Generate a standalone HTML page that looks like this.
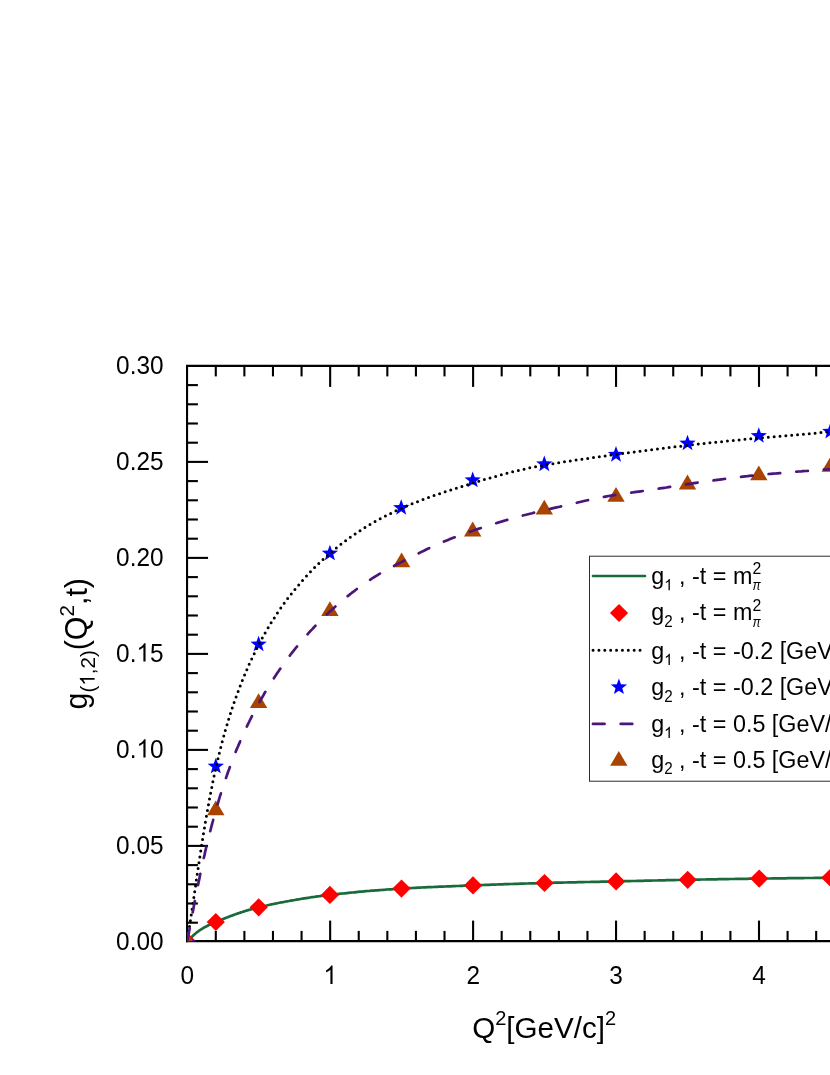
<!DOCTYPE html>
<html><head><meta charset="utf-8"><title>chart</title>
<style>html,body{margin:0;padding:0;background:#fff;overflow:hidden;}svg{display:block;will-change:transform;}text{font-family:"Liberation Sans",sans-serif;fill:#000;font-kerning:none;white-space:pre;}</style></head><body>
<svg width="830" height="1075" viewBox="0 0 830 1075">
<rect width="830" height="1075" fill="#fff"/>
<defs><clipPath id="plot"><rect x="187.05" y="365.85" width="700" height="575.3"/></clipPath></defs>
<g stroke="#000" stroke-width="2.1" fill="none" stroke-linecap="butt">
<path d="M187.05,942.1999999999999 V365.85 H840"/>
<path d="M186.0,941.15 H840"/>
<path d="M187.05,922.70 H197.9"/>
<path d="M187.05,903.50 H197.9"/>
<path d="M187.05,884.30 H197.9"/>
<path d="M187.05,865.10 H197.9"/>
<path d="M187.05,845.90 H208.05"/>
<path d="M187.05,826.70 H197.9"/>
<path d="M187.05,807.50 H197.9"/>
<path d="M187.05,788.30 H197.9"/>
<path d="M187.05,769.10 H197.9"/>
<path d="M187.05,749.90 H208.05"/>
<path d="M187.05,730.70 H197.9"/>
<path d="M187.05,711.50 H197.9"/>
<path d="M187.05,692.30 H197.9"/>
<path d="M187.05,673.10 H197.9"/>
<path d="M187.05,653.90 H208.05"/>
<path d="M187.05,634.70 H197.9"/>
<path d="M187.05,615.50 H197.9"/>
<path d="M187.05,596.30 H197.9"/>
<path d="M187.05,577.10 H197.9"/>
<path d="M187.05,557.90 H208.05"/>
<path d="M187.05,538.70 H197.9"/>
<path d="M187.05,519.50 H197.9"/>
<path d="M187.05,500.30 H197.9"/>
<path d="M187.05,481.10 H197.9"/>
<path d="M187.05,461.90 H208.05"/>
<path d="M187.05,442.70 H197.9"/>
<path d="M187.05,423.50 H197.9"/>
<path d="M187.05,404.30 H197.9"/>
<path d="M187.05,385.10 H197.9"/>
<path d="M215.79,941.15 V930.9"/>
<path d="M215.79,365.85 V376.4"/>
<path d="M244.38,941.15 V930.9"/>
<path d="M244.38,365.85 V376.4"/>
<path d="M272.97,941.15 V930.9"/>
<path d="M272.97,365.85 V376.4"/>
<path d="M301.56,941.15 V930.9"/>
<path d="M301.56,365.85 V376.4"/>
<path d="M330.15,941.15 V920.6"/>
<path d="M330.15,365.85 V386.9"/>
<path d="M358.74,941.15 V930.9"/>
<path d="M358.74,365.85 V376.4"/>
<path d="M387.33,941.15 V930.9"/>
<path d="M387.33,365.85 V376.4"/>
<path d="M415.92,941.15 V930.9"/>
<path d="M415.92,365.85 V376.4"/>
<path d="M444.51,941.15 V930.9"/>
<path d="M444.51,365.85 V376.4"/>
<path d="M473.10,941.15 V920.6"/>
<path d="M473.10,365.85 V386.9"/>
<path d="M501.69,941.15 V930.9"/>
<path d="M501.69,365.85 V376.4"/>
<path d="M530.28,941.15 V930.9"/>
<path d="M530.28,365.85 V376.4"/>
<path d="M558.87,941.15 V930.9"/>
<path d="M558.87,365.85 V376.4"/>
<path d="M587.46,941.15 V930.9"/>
<path d="M587.46,365.85 V376.4"/>
<path d="M616.05,941.15 V920.6"/>
<path d="M616.05,365.85 V386.9"/>
<path d="M644.64,941.15 V930.9"/>
<path d="M644.64,365.85 V376.4"/>
<path d="M673.23,941.15 V930.9"/>
<path d="M673.23,365.85 V376.4"/>
<path d="M701.82,941.15 V930.9"/>
<path d="M701.82,365.85 V376.4"/>
<path d="M730.41,941.15 V930.9"/>
<path d="M730.41,365.85 V376.4"/>
<path d="M759.00,941.15 V920.6"/>
<path d="M759.00,365.85 V386.9"/>
<path d="M787.59,941.15 V930.9"/>
<path d="M787.59,365.85 V376.4"/>
<path d="M816.18,941.15 V930.9"/>
<path d="M816.18,365.85 V376.4"/>
<path d="M844.77,941.15 V930.9"/>
<path d="M844.77,365.85 V376.4"/>
</g>
<g transform="translate(163.60,949.60) scale(1,1.05)">
<text x="-47.49" y="0.00" font-size="24.4">0.00</text>
</g>
<g transform="translate(163.60,853.60) scale(1,1.05)">
<text x="-47.49" y="0.00" font-size="24.4">0.05</text>
</g>
<g transform="translate(163.60,757.60) scale(1,1.05)">
<text x="-47.49" y="0.00" font-size="24.4">0.</text>
<path transform="translate(-27.14,0.00) scale(0.01191,-0.01191)" d="M763 0H583V1147Q518 1085 412.5 1023Q307 961 223 930V1104Q374 1175 487 1276Q600 1377 647 1472H763Z"/>
<text x="-13.57" y="0.00" font-size="24.4">0</text>
</g>
<g transform="translate(163.60,661.60) scale(1,1.05)">
<text x="-47.49" y="0.00" font-size="24.4">0.</text>
<path transform="translate(-27.14,0.00) scale(0.01191,-0.01191)" d="M763 0H583V1147Q518 1085 412.5 1023Q307 961 223 930V1104Q374 1175 487 1276Q600 1377 647 1472H763Z"/>
<text x="-13.57" y="0.00" font-size="24.4">5</text>
</g>
<g transform="translate(163.60,565.60) scale(1,1.05)">
<text x="-47.49" y="0.00" font-size="24.4">0.20</text>
</g>
<g transform="translate(163.60,469.60) scale(1,1.05)">
<text x="-47.49" y="0.00" font-size="24.4">0.25</text>
</g>
<g transform="translate(163.60,373.60) scale(1,1.05)">
<text x="-47.49" y="0.00" font-size="24.4">0.30</text>
</g>
<g transform="translate(187.30,984.00) scale(1,1.05)">
<text x="-6.79" y="0.00" font-size="24.4">0</text>
</g>
<g transform="translate(330.25,984.00) scale(1,1.05)">
<path transform="translate(-6.79,0.00) scale(0.01191,-0.01191)" d="M763 0H583V1147Q518 1085 412.5 1023Q307 961 223 930V1104Q374 1175 487 1276Q600 1377 647 1472H763Z"/>
</g>
<g transform="translate(473.20,984.00) scale(1,1.05)">
<text x="-6.79" y="0.00" font-size="24.4">2</text>
</g>
<g transform="translate(616.15,984.00) scale(1,1.05)">
<text x="-6.79" y="0.00" font-size="24.4">3</text>
</g>
<g transform="translate(759.10,984.00) scale(1,1.05)">
<text x="-6.79" y="0.00" font-size="24.4">4</text>
</g>
<g clip-path="url(#plot)">
<path d="M187.2,941.5 L187.8,940.9 L188.4,940.2 L189.0,939.6 L189.6,939.0 L190.3,938.4 L190.9,937.7 L191.5,937.2 L192.1,936.6 L192.7,936.0 L193.3,935.4 L193.9,934.9 L194.5,934.3 L195.2,933.8 L195.8,933.3 L196.4,932.8 L197.0,932.3 L197.6,931.8 L198.2,931.4 L198.8,930.9 L199.4,930.5 L200.0,930.1 L200.7,929.7 L201.3,929.3 L201.9,928.9 L202.5,928.5 L203.1,928.2 L203.7,927.8 L204.3,927.5 L204.9,927.1 L205.6,926.8 L206.2,926.5 L206.8,926.2 L207.4,925.8 L208.0,925.5 L208.6,925.2 L209.2,924.9 L209.8,924.6 L210.4,924.4 L211.1,924.1 L211.7,923.8 L212.3,923.5 L212.9,923.3 L213.5,923.0 L214.1,922.7 L214.7,922.5 L215.3,922.2 L216.0,921.9 L216.6,921.7 L217.2,921.4 L217.8,921.2 L218.4,920.9 L219.0,920.7 L219.6,920.4 L220.2,920.2 L220.8,919.9 L221.5,919.7 L222.1,919.4 L222.7,919.2 L223.3,918.9 L223.9,918.7 L224.5,918.4 L225.1,918.2 L225.7,917.9 L226.4,917.7 L227.0,917.5 L227.6,917.2 L228.2,917.0 L228.8,916.8 L229.4,916.5 L230.0,916.3 L230.6,916.1 L231.2,915.8 L231.9,915.6 L232.5,915.4 L233.1,915.1 L233.7,914.9 L234.3,914.7 L234.9,914.5 L235.5,914.3 L236.1,914.0 L236.8,913.8 L237.4,913.6 L238.0,913.4 L238.6,913.2 L239.2,913.0 L239.8,912.8 L240.4,912.6 L241.0,912.4 L241.6,912.2 L242.3,912.0 L242.9,911.8 L243.5,911.6 L244.1,911.4 L244.7,911.2 L245.3,911.0 L245.9,910.8 L246.5,910.6 L247.2,910.4 L247.8,910.2 L248.4,910.1 L249.0,909.9 L249.6,909.7 L250.2,909.5 L250.8,909.4 L251.4,909.2 L252.0,909.0 L252.7,908.8 L253.3,908.7 L253.9,908.5 L254.5,908.4 L255.1,908.2 L255.7,908.0 L256.3,907.9 L256.9,907.7 L257.6,907.6 L258.2,907.4 L258.8,907.3 L259.4,907.1 L260.0,907.0 L261.9,906.5 L263.9,906.1 L265.8,905.7 L267.7,905.2 L269.6,904.8 L271.6,904.4 L273.5,904.0 L275.4,903.6 L277.3,903.2 L279.3,902.8 L281.2,902.4 L283.1,902.1 L285.0,901.7 L287.0,901.3 L288.9,901.0 L290.8,900.6 L292.7,900.3 L294.7,900.0 L296.6,899.6 L298.5,899.3 L300.5,899.0 L302.4,898.7 L304.3,898.4 L306.2,898.1 L308.2,897.8 L310.1,897.5 L312.0,897.2 L313.9,897.0 L315.9,896.7 L317.8,896.4 L319.7,896.2 L321.6,895.9 L323.6,895.7 L325.5,895.4 L327.4,895.2 L329.4,895.0 L331.3,894.7 L333.2,894.5 L335.1,894.3 L337.1,894.1 L339.0,893.9 L340.9,893.7 L342.8,893.5 L344.8,893.3 L346.7,893.1 L348.6,892.9 L350.5,892.7 L352.5,892.5 L354.4,892.3 L356.3,892.1 L358.2,891.9 L360.2,891.7 L362.1,891.6 L364.0,891.4 L366.0,891.2 L367.9,891.0 L369.8,890.9 L371.7,890.7 L373.7,890.6 L375.6,890.4 L377.5,890.3 L379.4,890.1 L381.4,890.0 L383.3,889.8 L385.2,889.7 L387.1,889.5 L389.1,889.4 L391.0,889.3 L392.9,889.1 L394.8,889.0 L396.8,888.9 L398.7,888.8 L400.6,888.7 L402.6,888.5 L404.5,888.4 L406.4,888.3 L408.3,888.2 L410.3,888.1 L412.2,888.0 L414.1,887.9 L416.0,887.8 L418.0,887.7 L419.9,887.6 L421.8,887.5 L423.7,887.4 L425.7,887.3 L427.6,887.2 L429.5,887.2 L431.5,887.1 L433.4,887.0 L435.3,886.9 L437.2,886.8 L439.2,886.7 L441.1,886.7 L443.0,886.6 L444.9,886.5 L446.9,886.4 L448.8,886.3 L450.7,886.3 L452.6,886.2 L454.6,886.1 L456.5,886.0 L458.4,886.0 L460.3,885.9 L462.3,885.8 L464.2,885.7 L466.1,885.7 L468.1,885.6 L470.0,885.5 L471.9,885.4 L473.8,885.4 L475.8,885.3 L477.7,885.2 L479.6,885.1 L481.5,885.1 L483.5,885.0 L485.4,884.9 L487.3,884.9 L489.2,884.8 L491.2,884.7 L493.1,884.6 L495.0,884.6 L496.9,884.5 L498.9,884.4 L500.8,884.4 L502.7,884.3 L504.7,884.2 L506.6,884.2 L508.5,884.1 L510.4,884.0 L512.4,884.0 L514.3,883.9 L516.2,883.8 L518.1,883.8 L520.1,883.7 L522.0,883.7 L523.9,883.6 L525.8,883.5 L527.8,883.5 L529.7,883.4 L531.6,883.4 L533.6,883.3 L535.5,883.3 L537.4,883.2 L539.3,883.1 L541.3,883.1 L543.2,883.0 L545.1,883.0 L547.0,882.9 L549.0,882.9 L550.9,882.8 L552.8,882.8 L554.7,882.7 L556.7,882.7 L558.6,882.6 L560.5,882.6 L562.4,882.6 L564.4,882.5 L566.3,882.5 L568.2,882.4 L570.2,882.4 L572.1,882.3 L574.0,882.3 L575.9,882.3 L577.9,882.2 L579.8,882.2 L581.7,882.1 L583.6,882.1 L585.6,882.0 L587.5,882.0 L589.4,882.0 L591.3,881.9 L593.3,881.9 L595.2,881.8 L597.1,881.8 L599.1,881.8 L601.0,881.7 L602.9,881.7 L604.8,881.6 L606.8,881.6 L608.7,881.6 L610.6,881.5 L612.5,881.5 L614.5,881.4 L616.4,881.4 L618.3,881.4 L620.2,881.3 L622.2,881.3 L624.1,881.2 L626.0,881.2 L627.9,881.1 L629.9,881.1 L631.8,881.0 L633.7,881.0 L635.7,881.0 L637.6,880.9 L639.5,880.9 L641.4,880.8 L643.4,880.8 L645.3,880.7 L647.2,880.7 L649.1,880.6 L651.1,880.6 L653.0,880.5 L654.9,880.5 L656.8,880.5 L658.8,880.4 L660.7,880.4 L662.6,880.3 L664.5,880.3 L666.5,880.2 L668.4,880.2 L670.3,880.2 L672.3,880.1 L674.2,880.1 L676.1,880.0 L678.0,880.0 L680.0,880.0 L681.9,879.9 L683.8,879.9 L685.7,879.8 L687.7,879.8 L689.6,879.8 L691.5,879.7 L693.4,879.7 L695.4,879.7 L697.3,879.6 L699.2,879.6 L701.2,879.5 L703.1,879.5 L705.0,879.5 L706.9,879.4 L708.9,879.4 L710.8,879.4 L712.7,879.3 L714.6,879.3 L716.6,879.3 L718.5,879.2 L720.4,879.2 L722.3,879.2 L724.3,879.1 L726.2,879.1 L728.1,879.1 L730.0,879.0 L732.0,879.0 L733.9,879.0 L735.8,878.9 L737.8,878.9 L739.7,878.9 L741.6,878.9 L743.5,878.8 L745.5,878.8 L747.4,878.8 L749.3,878.7 L751.2,878.7 L753.2,878.7 L755.1,878.7 L757.0,878.6 L758.9,878.6 L760.9,878.6 L762.8,878.6 L764.7,878.5 L766.6,878.5 L768.6,878.5 L770.5,878.5 L772.4,878.4 L774.4,878.4 L776.3,878.4 L778.2,878.4 L780.1,878.3 L782.1,878.3 L784.0,878.3 L785.9,878.3 L787.8,878.2 L789.8,878.2 L791.7,878.2 L793.6,878.2 L795.5,878.1 L797.5,878.1 L799.4,878.1 L801.3,878.1 L803.3,878.1 L805.2,878.0 L807.1,878.0 L809.0,878.0 L811.0,878.0 L812.9,878.0 L814.8,877.9 L816.7,877.9 L818.7,877.9 L820.6,877.9 L822.5,877.9 L824.4,877.9 L826.4,877.8 L828.3,877.8 L830.2,877.8 L832.1,877.8 L834.1,877.8 L836.0,877.8" fill="none" stroke="#1a6b3c" stroke-width="2.7" stroke-linecap="round" stroke-linejoin="round"/>
<path d="M187.20,932.40 L196.30,941.50 L187.20,950.60 L178.10,941.50Z" fill="#ff0000"/>
<path d="M215.80,912.90 L224.90,922.00 L215.80,931.10 L206.70,922.00Z" fill="#ff0000"/>
<path d="M258.70,898.20 L267.80,907.30 L258.70,916.40 L249.60,907.30Z" fill="#ff0000"/>
<path d="M329.90,885.80 L339.00,894.90 L329.90,904.00 L320.80,894.90Z" fill="#ff0000"/>
<path d="M401.50,879.50 L410.60,888.60 L401.50,897.70 L392.40,888.60Z" fill="#ff0000"/>
<path d="M473.00,876.30 L482.10,885.40 L473.00,894.50 L463.90,885.40Z" fill="#ff0000"/>
<path d="M544.50,873.90 L553.60,883.00 L544.50,892.10 L535.40,883.00Z" fill="#ff0000"/>
<path d="M616.10,872.30 L625.20,881.40 L616.10,890.50 L607.00,881.40Z" fill="#ff0000"/>
<path d="M687.70,870.70 L696.80,879.80 L687.70,888.90 L678.60,879.80Z" fill="#ff0000"/>
<path d="M759.20,869.50 L768.30,878.60 L759.20,887.70 L750.10,878.60Z" fill="#ff0000"/>
<path d="M830.30,868.70 L839.40,877.80 L830.30,886.90 L821.20,877.80Z" fill="#ff0000"/>
<path d="M187.20,934.20 L189.29,939.93 L195.38,940.14 L190.58,943.90 L192.25,949.76 L187.20,946.35 L182.15,949.76 L183.82,943.90 L179.02,940.14 L185.11,939.93Z" fill="#0000ff"/>
<path d="M215.80,757.80 L217.89,763.53 L223.98,763.74 L219.18,767.50 L220.85,773.36 L215.80,769.95 L210.75,773.36 L212.42,767.50 L207.62,763.74 L213.71,763.53Z" fill="#0000ff"/>
<path d="M258.60,635.70 L260.69,641.43 L266.78,641.64 L261.98,645.40 L263.65,651.26 L258.60,647.85 L253.55,651.26 L255.22,645.40 L250.42,641.64 L256.51,641.43Z" fill="#0000ff"/>
<path d="M329.90,544.80 L331.99,550.53 L338.08,550.74 L333.28,554.50 L334.95,560.36 L329.90,556.95 L324.85,560.36 L326.52,554.50 L321.72,550.74 L327.81,550.53Z" fill="#0000ff"/>
<path d="M401.20,499.20 L403.29,504.93 L409.38,505.14 L404.58,508.90 L406.25,514.76 L401.20,511.35 L396.15,514.76 L397.82,508.90 L393.02,505.14 L399.11,504.93Z" fill="#0000ff"/>
<path d="M472.70,471.60 L474.79,477.33 L480.88,477.54 L476.08,481.30 L477.75,487.16 L472.70,483.75 L467.65,487.16 L469.32,481.30 L464.52,477.54 L470.61,477.33Z" fill="#0000ff"/>
<path d="M544.30,455.60 L546.39,461.33 L552.48,461.54 L547.68,465.30 L549.35,471.16 L544.30,467.75 L539.25,471.16 L540.92,465.30 L536.12,461.54 L542.21,461.33Z" fill="#0000ff"/>
<path d="M616.00,446.10 L618.09,451.83 L624.18,452.04 L619.38,455.80 L621.05,461.66 L616.00,458.25 L610.95,461.66 L612.62,455.80 L607.82,452.04 L613.91,451.83Z" fill="#0000ff"/>
<path d="M687.50,434.70 L689.59,440.43 L695.68,440.64 L690.88,444.40 L692.55,450.26 L687.50,446.85 L682.45,450.26 L684.12,444.40 L679.32,440.64 L685.41,440.43Z" fill="#0000ff"/>
<path d="M758.80,427.20 L760.89,432.93 L766.98,433.14 L762.18,436.90 L763.85,442.76 L758.80,439.35 L753.75,442.76 L755.42,436.90 L750.62,433.14 L756.71,432.93Z" fill="#0000ff"/>
<path d="M830.30,423.00 L832.39,428.73 L838.48,428.94 L833.68,432.70 L835.35,438.56 L830.30,435.15 L825.25,438.56 L826.92,432.70 L822.12,428.94 L828.21,428.73Z" fill="#0000ff"/>
<path d="M187.2,941.5 L187.5,939.3 L187.9,937.0 L188.3,934.8 L188.6,932.5 L189.0,930.3 L189.3,928.0 L189.6,925.8 L190.0,923.5 L190.3,921.3 L190.7,919.0 L191.0,916.7 L191.3,914.5 L191.7,912.2 L192.0,910.0 L192.3,907.7 L192.7,905.5 L193.0,903.2 L193.3,901.0 L193.7,898.7 L194.0,896.4 L194.3,894.2 L194.7,891.9 L195.0,889.7 L195.3,887.4 L195.7,885.2 L196.0,882.9 L196.3,880.6 L196.6,878.4 L197.0,876.1 L197.3,873.9 L197.6,871.6 L198.0,869.4 L198.3,867.1 L198.7,864.8 L199.0,862.6 L199.3,860.3 L199.7,858.1 L200.0,855.8 L200.4,853.6 L200.7,851.3 L201.0,849.0 L201.4,846.8 L201.7,844.5 L202.1,842.3 L202.5,840.0 L202.8,837.8 L203.2,835.5 L203.5,833.3 L203.9,831.0 L204.3,828.8 L204.7,826.5 L205.0,824.3 L205.4,822.0 L205.8,819.8 L206.2,817.5 L206.6,815.3 L207.0,813.0 L207.4,810.8 L207.8,808.5 L208.2,806.3 L208.6,804.1 L209.0,801.8 L209.4,799.6 L209.8,797.3 L210.2,795.1 L210.7,792.9 L211.1,790.6 L211.6,788.4 L212.0,786.2 L212.5,783.9 L212.9,781.7 L213.4,779.5 L213.8,777.2 L214.3,775.0 L214.8,772.8 L215.3,770.6 L215.8,768.3 L216.3,766.1 L216.8,763.9 L217.3,761.7 L217.8,759.5 L218.3,757.3 L218.9,755.0 L219.4,752.8 L220.0,750.6 L220.5,748.4 L221.1,746.2 L221.7,744.0 L222.2,741.8 L222.8,739.6 L223.4,737.4 L224.0,735.2 L224.6,733.0 L225.2,730.8 L225.9,728.6 L226.5,726.5 L227.2,724.3 L227.8,722.1 L228.5,719.9 L229.1,717.7 L229.8,715.6 L230.5,713.4 L231.2,711.2 L231.9,709.0 L232.6,706.9 L233.4,704.7 L234.1,702.5 L234.9,700.4 L235.6,698.2 L236.4,696.1 L237.2,693.9 L238.0,691.8 L238.8,689.6 L239.6,687.5 L240.4,685.4 L241.2,683.2 L242.1,681.1 L242.9,679.0 L243.8,676.9 L244.7,674.7 L245.6,672.6 L246.5,670.5 L247.4,668.4 L248.3,666.3 L249.2,664.2 L250.2,662.2 L251.2,660.1 L252.1,658.0 L253.1,655.9 L254.1,653.9 L255.1,651.8 L256.1,649.8 L257.2,647.7 L258.2,645.7 L259.3,643.7 L260.3,641.6 L261.4,639.6 L262.5,637.6 L263.6,635.6 L264.7,633.6 L265.9,631.6 L267.0,629.7 L268.2,627.7 L269.3,625.7 L270.5,623.8 L271.7,621.8 L272.9,619.9 L274.2,618.0 L275.4,616.1 L276.7,614.1 L277.9,612.2 L279.2,610.4 L280.5,608.5 L281.8,606.6 L283.2,604.7 L284.5,602.9 L285.9,601.0 L287.2,599.2 L288.6,597.4 L290.0,595.6 L291.4,593.8 L292.8,592.0 L294.3,590.2 L295.7,588.4 L297.2,586.7 L298.7,584.9 L300.1,583.2 L301.6,581.5 L303.2,579.7 L304.7,578.0 L306.2,576.4 L307.8,574.7 L309.3,573.0 L310.9,571.4 L312.5,569.7 L314.1,568.1 L315.7,566.5 L317.4,564.9 L319.0,563.3 L320.7,561.7 L322.3,560.2 L324.0,558.6 L325.7,557.1 L327.4,555.6 L329.1,554.1 L330.8,552.6 L332.5,551.1 L334.3,549.6 L336.0,548.2 L337.8,546.8 L339.6,545.3 L341.4,543.9 L343.2,542.5 L345.0,541.2 L346.8,539.8 L348.6,538.5 L350.5,537.1 L352.3,535.8 L354.2,534.5 L356.0,533.3 L357.9,532.0 L359.8,530.8 L361.7,529.5 L363.6,528.3 L365.5,527.1 L367.5,526.0 L369.4,524.8 L371.3,523.7 L373.3,522.5 L375.3,521.4 L377.2,520.3 L379.2,519.2 L381.2,518.2 L383.2,517.1 L385.2,516.1 L387.2,515.1 L389.2,514.1 L391.3,513.1 L393.3,512.1 L395.3,511.1 L397.4,510.2 L399.4,509.3 L401.5,508.3 L403.6,507.4 L405.7,506.5 L407.7,505.6 L409.8,504.8 L411.9,503.9 L414.0,503.1 L416.1,502.2 L418.2,501.4 L420.4,500.6 L422.5,499.8 L424.6,499.0 L426.7,498.2 L428.9,497.4 L431.0,496.7 L433.2,495.9 L435.3,495.1 L437.5,494.4 L439.6,493.7 L441.8,492.9 L444.0,492.2 L446.1,491.5 L448.3,490.8 L450.5,490.1 L452.7,489.4 L454.8,488.7 L457.0,488.0 L459.2,487.3 L461.4,486.6 L463.6,485.9 L465.8,485.3 L468.0,484.6 L470.2,483.9 L472.4,483.2 L474.6,482.6 L476.8,481.9 L479.0,481.2 L481.2,480.6 L483.4,479.9 L485.6,479.2 L487.8,478.6 L490.0,478.0 L492.3,477.3 L494.5,476.7 L496.7,476.1 L498.9,475.5 L501.1,474.8 L503.3,474.2 L505.6,473.7 L507.8,473.1 L510.0,472.5 L512.3,471.9 L514.5,471.4 L516.7,470.8 L518.9,470.3 L521.2,469.8 L523.4,469.3 L525.6,468.8 L527.9,468.3 L530.1,467.8 L532.3,467.4 L534.6,466.9 L536.8,466.5 L539.1,466.1 L541.3,465.7 L543.5,465.2 L545.8,464.8 L548.0,464.5 L550.3,464.1 L552.5,463.7 L554.8,463.3 L557.0,463.0 L559.3,462.6 L561.5,462.3 L563.8,461.9 L566.0,461.6 L568.3,461.2 L570.5,460.9 L572.8,460.6 L575.0,460.2 L577.3,459.9 L579.5,459.6 L581.8,459.3 L584.0,458.9 L586.3,458.6 L588.5,458.3 L590.8,458.0 L593.0,457.6 L595.3,457.3 L597.5,457.0 L599.8,456.7 L602.0,456.4 L604.3,456.1 L606.5,455.7 L608.8,455.4 L611.0,455.1 L613.3,454.8 L615.6,454.5 L617.8,454.2 L620.1,453.9 L622.3,453.6 L624.6,453.3 L626.8,453.0 L629.1,452.7 L631.3,452.4 L633.6,452.1 L635.9,451.8 L638.1,451.5 L640.4,451.2 L642.6,450.9 L644.9,450.6 L647.2,450.3 L649.4,450.0 L651.7,449.7 L653.9,449.4 L656.2,449.1 L658.5,448.8 L660.7,448.6 L663.0,448.3 L665.2,448.0 L667.5,447.7 L669.8,447.4 L672.0,447.2 L674.3,446.9 L676.5,446.6 L678.8,446.4 L681.1,446.1 L683.3,445.8 L685.6,445.6 L687.9,445.3 L690.1,445.0 L692.4,444.8 L694.6,444.5 L696.9,444.3 L699.2,444.0 L701.4,443.8 L703.7,443.5 L706.0,443.3 L708.2,443.0 L710.5,442.8 L712.8,442.6 L715.0,442.3 L717.3,442.1 L719.6,441.9 L721.8,441.6 L724.1,441.4 L726.4,441.2 L728.6,441.0 L730.9,440.7 L733.2,440.5 L735.5,440.3 L737.7,440.1 L740.0,439.9 L742.3,439.7 L744.5,439.4 L746.8,439.2 L749.1,439.0 L751.3,438.8 L753.6,438.6 L755.9,438.4 L758.2,438.2 L760.4,438.0 L762.7,437.8 L765.0,437.6 L767.3,437.4 L769.5,437.2 L771.8,437.0 L774.1,436.8 L776.3,436.6 L778.6,436.4 L780.9,436.2 L783.2,436.0 L785.4,435.8 L787.7,435.6 L790.0,435.4 L792.3,435.2 L794.5,435.0 L796.8,434.8 L799.1,434.6 L801.4,434.4 L803.7,434.2 L805.9,434.0 L808.2,433.8 L810.5,433.6 L812.8,433.4 L815.0,433.2 L817.3,433.0 L819.6,432.7 L821.9,432.5 L824.2,432.3 L826.4,432.1 L828.7,431.9 L831.0,431.6 L833.3,431.4 L835.6,431.2 L837.8,431.0 L840.1,430.7" fill="none" stroke="#000" stroke-width="3.0" stroke-linecap="round" stroke-linejoin="round" stroke-dasharray="0 5.868" stroke-dashoffset="-3.4"/>
<path d="M187.20,931.63 L195.90,946.43 L178.50,946.43Z" fill="#a84300"/>
<path d="M215.80,800.40 L224.50,815.20 L207.10,815.20Z" fill="#a84300"/>
<path d="M258.60,693.30 L267.30,708.10 L249.90,708.10Z" fill="#a84300"/>
<path d="M329.90,601.20 L338.60,616.00 L321.20,616.00Z" fill="#a84300"/>
<path d="M401.60,552.50 L410.30,567.30 L392.90,567.30Z" fill="#a84300"/>
<path d="M472.70,521.60 L481.40,536.40 L464.00,536.40Z" fill="#a84300"/>
<path d="M544.30,499.80 L553.00,514.60 L535.60,514.60Z" fill="#a84300"/>
<path d="M616.00,486.90 L624.70,501.70 L607.30,501.70Z" fill="#a84300"/>
<path d="M687.50,474.60 L696.20,489.40 L678.80,489.40Z" fill="#a84300"/>
<path d="M758.80,465.50 L767.50,480.30 L750.10,480.30Z" fill="#a84300"/>
<path d="M830.30,457.00 L839.00,471.80 L821.60,471.80Z" fill="#a84300"/>
<path d="M187.2,941.5 L187.6,939.4 L188.0,937.3 L188.4,935.2 L188.8,933.0 L189.2,930.9 L189.6,928.8 L190.0,926.7 L190.4,924.6 L190.8,922.4 L191.1,920.3 L191.5,918.2 L192.0,916.1 L192.4,914.0 L192.8,911.8 L193.2,909.7 L193.6,907.6 L194.0,905.5 L194.4,903.3 L194.8,901.2 L195.2,899.1 L195.6,897.0 L196.0,894.8 L196.5,892.7 L196.9,890.6 L197.3,888.5 L197.7,886.4 L198.2,884.2 L198.6,882.1 L199.1,880.0 L199.5,877.9 L199.9,875.8 L200.4,873.6 L200.8,871.5 L201.3,869.4 L201.7,867.3 L202.2,865.2 L202.7,863.1 L203.1,860.9 L203.6,858.8 L204.1,856.7 L204.6,854.6 L205.0,852.5 L205.5,850.4 L206.0,848.3 L206.5,846.2 L207.0,844.1 L207.5,842.0 L208.0,839.9 L208.6,837.8 L209.1,835.7 L209.6,833.6 L210.1,831.5 L210.7,829.4 L211.2,827.3 L211.8,825.2 L212.3,823.1 L212.9,821.0 L213.4,818.9 L214.0,816.8 L214.6,814.7 L215.2,812.7 L215.8,810.6 L216.3,808.5 L216.9,806.4 L217.6,804.4 L218.2,802.3 L218.8,800.2 L219.4,798.2 L220.0,796.1 L220.7,794.0 L221.3,792.0 L222.0,789.9 L222.7,787.9 L223.3,785.8 L224.0,783.8 L224.7,781.7 L225.4,779.7 L226.1,777.6 L226.8,775.6 L227.5,773.5 L228.2,771.5 L229.0,769.5 L229.7,767.5 L230.4,765.4 L231.2,763.4 L232.0,761.4 L232.7,759.4 L233.5,757.4 L234.3,755.4 L235.1,753.3 L235.9,751.3 L236.7,749.3 L237.6,747.3 L238.4,745.4 L239.3,743.4 L240.1,741.4 L241.0,739.4 L241.8,737.4 L242.7,735.5 L243.6,733.5 L244.5,731.5 L245.4,729.6 L246.3,727.6 L247.3,725.6 L248.2,723.7 L249.2,721.8 L250.1,719.8 L251.1,717.9 L252.1,716.0 L253.1,714.0 L254.0,712.1 L255.1,710.2 L256.1,708.3 L257.1,706.4 L258.1,704.5 L259.2,702.6 L260.2,700.7 L261.3,698.8 L262.4,697.0 L263.5,695.1 L264.5,693.2 L265.6,691.4 L266.8,689.5 L267.9,687.7 L269.0,685.8 L270.2,684.0 L271.3,682.2 L272.5,680.3 L273.7,678.5 L274.8,676.7 L276.0,674.9 L277.2,673.1 L278.5,671.3 L279.7,669.5 L280.9,667.8 L282.2,666.0 L283.4,664.2 L284.7,662.5 L286.0,660.7 L287.3,659.0 L288.6,657.3 L289.9,655.5 L291.2,653.8 L292.5,652.1 L293.9,650.4 L295.2,648.7 L296.6,647.0 L298.0,645.4 L299.4,643.7 L300.8,642.0 L302.2,640.4 L303.6,638.7 L305.0,637.1 L306.5,635.5 L307.9,633.9 L309.4,632.2 L310.8,630.6 L312.3,629.1 L313.8,627.5 L315.3,625.9 L316.8,624.3 L318.3,622.8 L319.9,621.2 L321.4,619.7 L323.0,618.2 L324.5,616.6 L326.1,615.1 L327.7,613.6 L329.2,612.1 L330.8,610.7 L332.5,609.2 L334.1,607.7 L335.7,606.3 L337.3,604.8 L339.0,603.4 L340.6,602.0 L342.3,600.6 L344.0,599.2 L345.6,597.8 L347.3,596.4 L349.0,595.1 L350.7,593.7 L352.4,592.4 L354.2,591.1 L355.9,589.8 L357.6,588.5 L359.4,587.2 L361.1,585.9 L362.9,584.7 L364.6,583.5 L366.4,582.2 L368.2,581.0 L370.0,579.9 L371.8,578.7 L373.6,577.5 L375.4,576.4 L377.2,575.3 L379.0,574.2 L380.9,573.1 L382.7,572.1 L384.5,571.0 L386.4,570.0 L388.2,569.0 L390.1,568.0 L391.9,567.0 L393.8,566.0 L395.7,565.0 L397.6,564.0 L399.4,563.1 L401.3,562.1 L403.2,561.1 L405.1,560.2 L407.0,559.2 L408.9,558.2 L410.9,557.2 L412.8,556.3 L414.7,555.3 L416.6,554.3 L418.5,553.4 L420.5,552.4 L422.4,551.4 L424.4,550.5 L426.3,549.5 L428.3,548.6 L430.2,547.7 L432.2,546.8 L434.1,545.9 L436.1,545.0 L438.1,544.1 L440.1,543.2 L442.0,542.4 L444.0,541.5 L446.0,540.7 L448.0,539.9 L450.0,539.1 L452.0,538.3 L454.0,537.5 L456.0,536.8 L458.0,536.0 L460.0,535.3 L462.0,534.6 L464.0,533.8 L466.1,533.1 L468.1,532.4 L470.1,531.7 L472.2,531.0 L474.2,530.3 L476.2,529.6 L478.3,528.9 L480.3,528.2 L482.4,527.6 L484.4,526.9 L486.5,526.2 L488.5,525.6 L490.6,524.9 L492.6,524.3 L494.7,523.6 L496.8,523.0 L498.8,522.4 L500.9,521.7 L503.0,521.1 L505.0,520.5 L507.1,519.9 L509.2,519.3 L511.3,518.7 L513.4,518.1 L515.5,517.6 L517.6,517.0 L519.6,516.4 L521.7,515.9 L523.8,515.3 L525.9,514.8 L528.0,514.2 L530.1,513.7 L532.2,513.2 L534.3,512.6 L536.4,512.1 L538.5,511.6 L540.7,511.1 L542.8,510.6 L544.9,510.1 L547.0,509.6 L549.1,509.1 L551.2,508.6 L553.3,508.1 L555.5,507.6 L557.6,507.2 L559.7,506.7 L561.8,506.2 L564.0,505.7 L566.1,505.2 L568.2,504.7 L570.3,504.2 L572.5,503.7 L574.6,503.2 L576.7,502.8 L578.8,502.3 L581.0,501.8 L583.1,501.3 L585.2,500.8 L587.4,500.3 L589.5,499.8 L591.6,499.3 L593.8,498.9 L595.9,498.4 L598.0,498.0 L600.2,497.6 L602.3,497.1 L604.5,496.8 L606.6,496.4 L608.7,496.0 L610.9,495.7 L613.0,495.3 L615.1,495.0 L617.3,494.7 L619.4,494.4 L621.5,494.1 L623.7,493.8 L625.8,493.5 L628.0,493.2 L630.1,492.9 L632.2,492.5 L634.4,492.2 L636.5,491.9 L638.6,491.6 L640.8,491.3 L642.9,491.0 L645.0,490.7 L647.2,490.4 L649.3,490.0 L651.4,489.7 L653.5,489.4 L655.7,489.1 L657.8,488.8 L659.9,488.4 L662.1,488.1 L664.2,487.8 L666.3,487.5 L668.5,487.1 L670.6,486.8 L672.7,486.5 L674.8,486.1 L677.0,485.8 L679.1,485.5 L681.2,485.2 L683.4,484.8 L685.5,484.5 L687.6,484.2 L689.8,483.9 L691.9,483.6 L694.0,483.2 L696.1,482.9 L698.3,482.6 L700.4,482.3 L702.5,482.0 L704.7,481.7 L706.8,481.4 L708.9,481.1 L711.1,480.8 L713.2,480.5 L715.3,480.2 L717.5,479.9 L719.6,479.6 L721.7,479.3 L723.9,479.0 L726.0,478.7 L728.1,478.4 L730.3,478.2 L732.4,477.9 L734.5,477.6 L736.7,477.4 L738.8,477.1 L740.9,476.9 L743.1,476.6 L745.2,476.4 L747.4,476.2 L749.5,475.9 L751.6,475.7 L753.8,475.5 L755.9,475.3 L758.1,475.0 L760.2,474.8 L762.4,474.6 L764.5,474.4 L766.6,474.2 L768.8,474.0 L770.9,473.8 L773.1,473.6 L775.2,473.5 L777.4,473.3 L779.5,473.1 L781.7,472.9 L783.8,472.7 L786.0,472.5 L788.1,472.4 L790.3,472.2 L792.4,472.0 L794.6,471.9 L796.7,471.7 L798.9,471.5 L801.1,471.4 L803.2,471.2 L805.4,471.0 L807.5,470.9 L809.7,470.7 L811.9,470.6 L814.0,470.4 L816.2,470.3 L818.4,470.1 L820.5,469.9 L822.7,469.8 L824.9,469.6 L827.1,469.5 L829.2,469.3 L831.4,469.2 L833.6,469.0 L835.8,468.9 L837.9,468.7 L840.1,468.5" fill="none" stroke="#4b1579" stroke-width="2.7" stroke-linecap="round" stroke-linejoin="round" stroke-dasharray="11.6 16.13" stroke-dashoffset="-1.9"/>
</g>
<rect x="589.5" y="556.2" width="300" height="225" fill="#fff" stroke="#2b2b2b" stroke-width="1"/>
<path d="M593,576 H645" stroke="#1a6b3c" stroke-width="2.7" stroke-linecap="round"/>
<path d="M619.05,603.90 L628.15,613.00 L619.05,622.10 L609.95,613.00Z" fill="#ff0000"/>
<path d="M593.05,650.3 H645" stroke="#000" stroke-width="3.0" stroke-linecap="round" stroke-dasharray="0 5.875"/>
<path d="M618.90,678.50 L620.99,684.23 L627.08,684.44 L622.28,688.20 L623.95,694.06 L618.90,690.65 L613.85,694.06 L615.52,688.20 L610.72,684.44 L616.81,684.23Z" fill="#0000ff"/>
<path d="M592.95,723.9 H640" stroke="#4b1579" stroke-width="2.7" stroke-linecap="round" stroke-dasharray="11.6 16.13"/>
<path d="M618.80,751.05 L627.50,765.85 L610.10,765.85Z" fill="#a84300"/>
<g transform="translate(651.20,583.70) scale(1,1.035)">
<text x="0.00" y="0.00" font-size="23.35">g</text>
<path transform="translate(12.99,6.28) scale(0.00742,-0.00742)" d="M763 0H583V1147Q518 1085 412.5 1023Q307 961 223 930V1104Q374 1175 487 1276Q600 1377 647 1472H763Z"/>
<text x="21.44" y="0.00" font-size="23.35"> , -t = m</text>
<text x="101.23" y="-9.28" font-size="15.8">2</text>
</g>
<g transform="translate(752.53,590.10) scale(0.86,1)"><text font-family="Liberation Serif" font-style="italic" font-size="14.2">π</text></g>
<g transform="translate(651.20,620.30) scale(1,1.035)">
<text x="0.00" y="0.00" font-size="23.35">g</text>
<text x="12.99" y="6.28" font-size="15.2">2</text>
<text x="21.44" y="0.00" font-size="23.35"> , -t = m</text>
<text x="101.23" y="-9.28" font-size="15.8">2</text>
</g>
<g transform="translate(752.53,626.70) scale(0.86,1)"><text font-family="Liberation Serif" font-style="italic" font-size="14.2">π</text></g>
<g transform="translate(651.20,658.60) scale(1,1.035)">
<text x="0.00" y="0.00" font-size="23.35">g</text>
<path transform="translate(12.99,6.28) scale(0.00742,-0.00742)" d="M763 0H583V1147Q518 1085 412.5 1023Q307 961 223 930V1104Q374 1175 487 1276Q600 1377 647 1472H763Z"/>
<text x="21.44" y="0.00" font-size="23.35"> , -t = -0.2 [GeV/c]</text>
</g>
<g transform="translate(651.20,695.10) scale(1,1.035)">
<text x="0.00" y="0.00" font-size="23.35">g</text>
<text x="12.99" y="6.28" font-size="15.2">2</text>
<text x="21.44" y="0.00" font-size="23.35"> , -t = -0.2 [GeV/c]</text>
</g>
<g transform="translate(651.20,731.60) scale(1,1.035)">
<text x="0.00" y="0.00" font-size="23.35">g</text>
<path transform="translate(12.99,6.28) scale(0.00742,-0.00742)" d="M763 0H583V1147Q518 1085 412.5 1023Q307 961 223 930V1104Q374 1175 487 1276Q600 1377 647 1472H763Z"/>
<text x="21.44" y="0.00" font-size="23.35"> , -t = 0.5 [GeV/c]</text>
</g>
<g transform="translate(651.20,767.60) scale(1,1.035)">
<text x="0.00" y="0.00" font-size="23.35">g</text>
<text x="12.99" y="6.28" font-size="15.2">2</text>
<text x="21.44" y="0.00" font-size="23.35"> , -t = 0.5 [GeV/c]</text>
</g>
<g transform="translate(472.20,1038.00)">
<text x="0.00" y="0.00" font-size="29.6">Q</text>
<text x="23.02" y="-12.60" font-size="20.0">2</text>
<text x="34.15" y="0.00" font-size="29.6">[GeV/c]</text>
<text x="132.85" y="-12.60" font-size="20.0">2</text>
</g>
<g transform="translate(87.0,709.4) rotate(-90) scale(1.027,1.03)"><g transform="translate(0.00,0.00)">
<text x="0.00" y="0.00" font-size="29.6">g</text>
<text x="16.46" y="7.40" font-size="20.0">(</text>
<path transform="translate(23.12,7.40) scale(0.00977,-0.00977)" d="M763 0H583V1147Q518 1085 412.5 1023Q307 961 223 930V1104Q374 1175 487 1276Q600 1377 647 1472H763Z"/>
<text x="34.25" y="7.40" font-size="20.0">,2)</text>
<text x="57.59" y="0.00" font-size="29.6">(Q</text>
<text x="90.47" y="-12.60" font-size="20.0">2</text>
<text x="101.59" y="0.00" font-size="29.6">,t)</text>
</g></g>
</svg></body></html>
